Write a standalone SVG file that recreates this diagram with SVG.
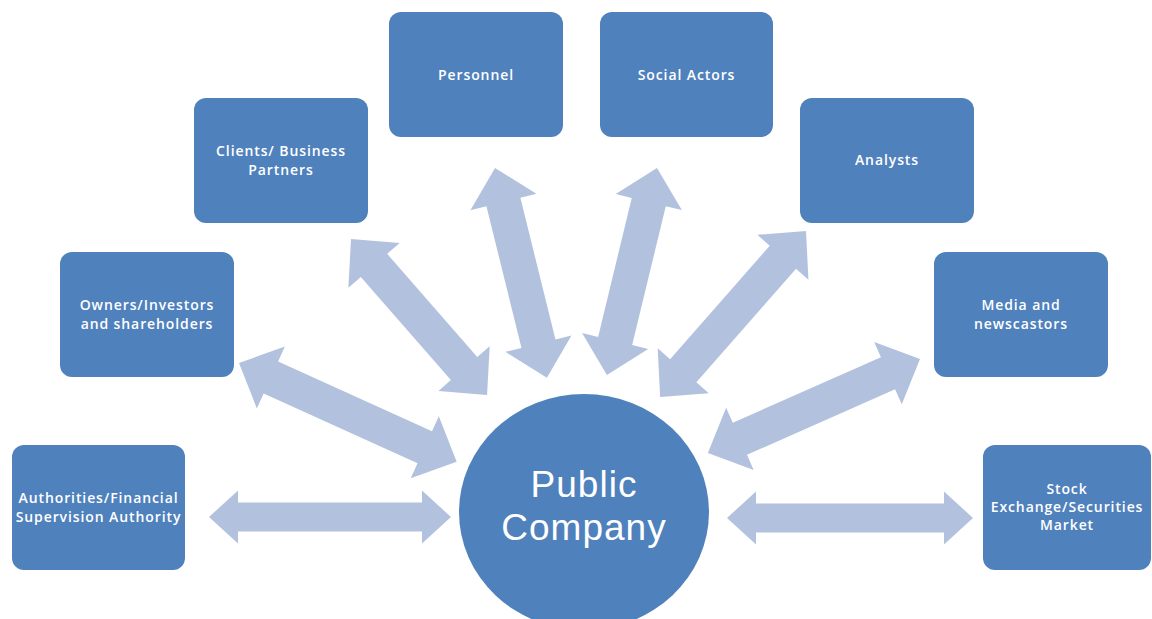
<svg xmlns="http://www.w3.org/2000/svg" width="1152" height="619" viewBox="0 0 1152 619">
  <style>
    .box { fill: #4F81BD; }
    .hub { fill: #4F81BD; }
    .arrow { fill: #B2C2DE; }
    .lbl { font-family: "Open Sans", "Liberation Sans", sans-serif; font-size: 14px; font-weight: 600; fill: #FFFFFF; text-anchor: middle; letter-spacing: 0.9px; }
    .hubtxt { font-family: "Liberation Sans", Arial, sans-serif; font-size: 37px; fill: #FFFFFF; text-anchor: middle; letter-spacing: 1px; }
  </style>
  <rect width="1152" height="619" fill="#FFFFFF"/>

  <!-- double-headed block arrows between the company and each stakeholder -->
  <g id="connectors">
    <path class="arrow" d="M209,517 L238,490.5 L238,502.5 L422,502.5 L422,490.5 L451,517 L422,543.5 L422,531.5 L238,531.5 L238,543.5 Z"/>
    <path class="arrow" transform="translate(239,363) rotate(24.4)" d="M0,0 L35,-34 L35,-17.5 L204,-17.5 L204,-34 L239,0 L204,34 L204,17.5 L35,17.5 L35,34 Z"/>
    <path class="arrow" transform="translate(351,239) rotate(48.9)" d="M0,0 L35,-34 L35,-17.5 L172,-17.5 L172,-34 L207,0 L172,34 L172,17.5 L35,17.5 L35,34 Z"/>
    <path class="arrow" transform="translate(495,168) rotate(76.1)" d="M0,0 L35,-34 L35,-17.5 L181,-17.5 L181,-34 L216,0 L181,34 L181,17.5 L35,17.5 L35,34 Z"/>
    <path class="arrow" transform="translate(657,168) rotate(103.6)" d="M0,0 L35,-34 L35,-17.5 L178,-17.5 L178,-34 L213,0 L178,34 L178,17.5 L35,17.5 L35,34 Z"/>
    <path class="arrow" transform="translate(806,231) rotate(131.3)" d="M0,0 L35,-34 L35,-17.5 L186,-17.5 L186,-34 L221,0 L186,34 L186,17.5 L35,17.5 L35,34 Z"/>
    <path class="arrow" transform="translate(920,359) rotate(156.1)" d="M0,0 L35,-34 L35,-17.5 L197,-17.5 L197,-34 L232,0 L197,34 L197,17.5 L35,17.5 L35,34 Z"/>
    <path class="arrow" d="M727,518 L756,491.5 L756,503.5 L944,503.5 L944,491.5 L973,518 L944,544.5 L944,532.5 L756,532.5 L756,544.5 Z"/>
  </g>

  <g id="public-company">
    <ellipse class="hub" cx="584" cy="512" rx="125" ry="118"/>
    <text class="hubtxt" x="584" y="497">Public</text>
    <text class="hubtxt" x="584" y="540">Company</text>
  </g>

  <g id="authorities">
    <rect class="box" x="12" y="445" width="173" height="125" rx="12"/>
    <text class="lbl" x="98.5" y="503">Authorities/Financial</text>
    <text class="lbl" x="98.5" y="522">Supervision Authority</text>
  </g>

  <g id="owners">
    <rect class="box" x="60" y="252" width="174" height="125" rx="12"/>
    <text class="lbl" x="147" y="310">Owners/Investors</text>
    <text class="lbl" x="147" y="329">and shareholders</text>
  </g>

  <g id="clients">
    <rect class="box" x="194" y="98" width="174" height="125" rx="12"/>
    <text class="lbl" x="281" y="156">Clients/ Business</text>
    <text class="lbl" x="281" y="175">Partners</text>
  </g>

  <g id="personnel">
    <rect class="box" x="389" y="12" width="174" height="125" rx="12"/>
    <text class="lbl" x="476" y="80">Personnel</text>
  </g>

  <g id="social-actors">
    <rect class="box" x="600" y="12" width="173" height="125" rx="12"/>
    <text class="lbl" x="686.5" y="80">Social Actors</text>
  </g>

  <g id="analysts">
    <rect class="box" x="800" y="98" width="174" height="125" rx="12"/>
    <text class="lbl" x="887" y="165">Analysts</text>
  </g>

  <g id="media">
    <rect class="box" x="934" y="252" width="174" height="125" rx="12"/>
    <text class="lbl" x="1021" y="310">Media and</text>
    <text class="lbl" x="1021" y="329">newscastors</text>
  </g>

  <g id="stock-exchange">
    <rect class="box" x="983" y="445" width="168" height="125" rx="12"/>
    <text class="lbl" x="1067" y="494">Stock</text>
    <text class="lbl" x="1067" y="512">Exchange/Securities</text>
    <text class="lbl" x="1067" y="530">Market</text>
  </g>
</svg>
